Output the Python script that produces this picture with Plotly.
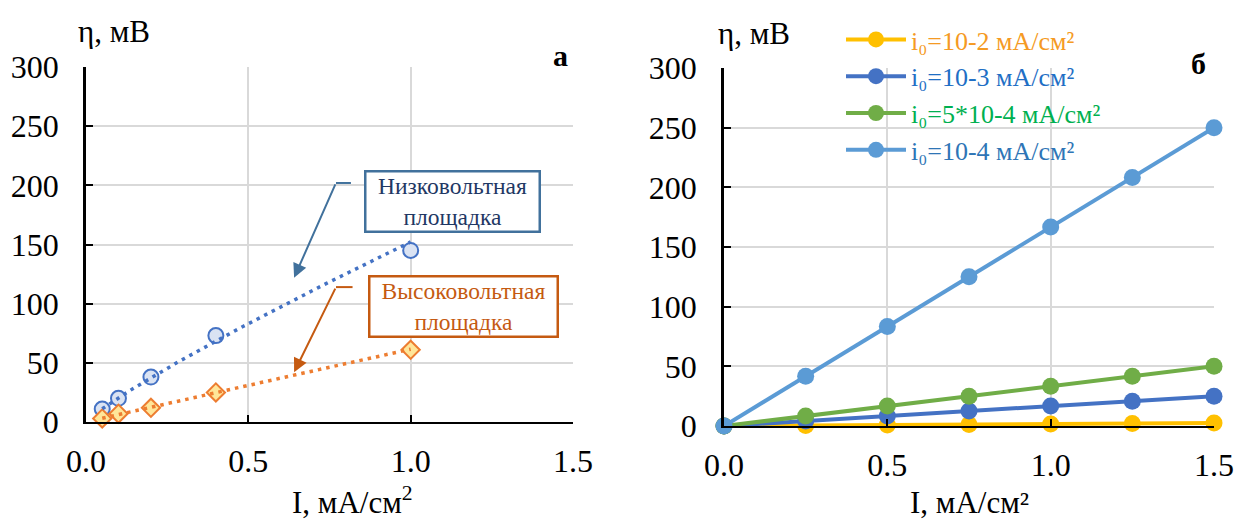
import numpy as np
import plotly.graph_objects as go

# ---------------- data ----------------
# panel a
I_meas = [0.05, 0.1, 0.2, 0.4, 1.0]
eta_low = [11, 20, 38, 73, 145]      # низковольтная площадка
eta_high = [3, 7, 12, 25, 61]        # высоковольтная площадка

# panel б
I_calc = [0, 0.25, 0.5, 0.75, 1.0, 1.25, 1.5]
eta_i0_1e2 = [0, 0.4, 0.8, 1.25, 1.7, 2.1, 2.5]
eta_i0_1e3 = [0, 4.2, 8.3, 12.5, 16.7, 20.8, 25]
eta_i0_5e4 = [0, 8.3, 16.7, 25, 33.3, 41.7, 50]
eta_i0_1e4 = [0, 41.7, 83.3, 125, 166.7, 208.3, 250]

x_ticks = [0.0, 0.5, 1.0, 1.5]
y_ticks = [0, 50, 100, 150, 200, 250, 300]

FONT = "Liberation Serif"
W, H = 1235, 520


def power_trend(x, y):
    b, ln_a = np.polyfit(np.log(x), np.log(y), 1)
    xs = np.linspace(min(x), max(x), 60)
    return xs, np.exp(ln_a) * xs ** b


fig = go.Figure()

# ---- panel a ----
fig.add_trace(go.Scatter(x=I_meas, y=eta_low, mode="markers", xaxis="x", yaxis="y",
                         marker=dict(symbol="circle", size=15, color="#DAE3F3",
                                     line=dict(color="#4472C4", width=2)),
                         showlegend=False, cliponaxis=False))
fig.add_trace(go.Scatter(x=I_meas, y=eta_high, mode="markers", xaxis="x", yaxis="y",
                         marker=dict(symbol="diamond", size=14, color="#FFE699",
                                     line=dict(color="#ED7D31", width=2)),
                         showlegend=False, cliponaxis=False))
tx, ty = power_trend(I_meas, eta_low)
fig.add_trace(go.Scatter(x=tx, y=ty, mode="lines", xaxis="x", yaxis="y",
                         line=dict(color="#4472C4", width=3.5, dash="3.5px,5px"),
                         showlegend=False, cliponaxis=False))
tx, ty = power_trend(I_meas, eta_high)
fig.add_trace(go.Scatter(x=tx, y=ty, mode="lines", xaxis="x", yaxis="y",
                         line=dict(color="#ED7D31", width=3.5, dash="3.5px,5px"),
                         showlegend=False, cliponaxis=False))

# ---- panel б ----
series = [
    ("i₀=10-2 мА/см²", eta_i0_1e2, "#FFC000", "#F59A23"),
    ("i₀=10-3 мА/см²", eta_i0_1e3, "#4472C4", "#1F6FC5"),
    ("i₀=5*10-4 мА/см²", eta_i0_5e4, "#70AD47", "#00B050"),
    ("i₀=10-4 мА/см²", eta_i0_1e4, "#5B9BD5", "#2E75B6"),
]
for k, (name, vals, col, tcol) in enumerate(series):
    fig.add_trace(go.Scatter(x=I_calc, y=vals, mode="lines+markers", xaxis="x2", yaxis="y2",
                             name=f'<span style="color:{tcol}">{name}</span>',
                             legendgroup=f"g{k}",
                             line=dict(color=col, width=4),
                             marker=dict(size=17, color=col),
                             cliponaxis=False))

axis_common = dict(range=[0, 1.5], tickvals=x_ticks, tickformat=".1f",
                   showgrid=True, gridcolor="#D9D9D9", gridwidth=1.5,
                   showline=True, linecolor="black", linewidth=2,
                   ticks="inside", ticklen=7, tickwidth=2, tickcolor="black",
                   zeroline=False, fixedrange=True, automargin=False,
                   ticklabelstandoff=10,
                   tickfont=dict(family=FONT, size=32, color="black"))
yaxis_common = dict(range=[0, 300], tickvals=y_ticks,
                    showgrid=True, gridcolor="#D9D9D9", gridwidth=1.5,
                    showline=True, linecolor="black", linewidth=2.5,
                    ticks="inside", ticklen=7, tickwidth=2, tickcolor="black",
                    zeroline=False, fixedrange=True, automargin=False,
                    ticklabelstandoff=18,
                    tickfont=dict(family=FONT, size=32, color="black"))

fig.update_layout(
    width=W, height=H,
    margin=dict(l=0, r=0, t=0, b=0, autoexpand=False),
    paper_bgcolor="white", plot_bgcolor="white",
    font=dict(family=FONT, color="black"),
    xaxis=dict(domain=[86 / W, 573 / W], anchor="y", **axis_common),
    yaxis=dict(domain=[1 - 422 / H, 1 - 67 / H], anchor="x", **yaxis_common),
    xaxis2=dict(domain=[724 / W, 1214 / W], anchor="y2", **axis_common),
    yaxis2=dict(domain=[1 - 426 / H, 1 - 68 / H], anchor="x2", **yaxis_common),
    legend=dict(x=841 / W, y=1 - 16 / H, xanchor="left", yanchor="top",
                font=dict(family=FONT, size=26), bgcolor="rgba(0,0,0,0)",
                itemwidth=60, tracegroupgap=10, traceorder="normal"),
    showlegend=True,
)

out = []
titles = [
    ("η, мВ", 76, 31, "left"),
    ("η, мВ", 716, 34, "left"),
    ("I, мА/см<sup>2</sup>", 352, 500, "center"),
    ("I, мА/см²", 969, 502, "center"),
]
for text, px, py, anc in titles:
    out.append(dict(text=text, xref="paper", yref="paper", x=px / W, y=1 - py / H,
                    xanchor=anc, yanchor="middle", showarrow=False,
                    font=dict(family=FONT, size=31, color="black")))
# panel letters
out.append(dict(text="<b>а</b>", xref="paper", yref="paper", x=560 / W, y=1 - 37 / H,
                showarrow=False, font=dict(family=FONT, size=30, color="black")))
out.append(dict(text="<b>б</b>", xref="paper", yref="paper", x=1208 / W, y=1 - 45 / H,
                showarrow=False, font=dict(family=FONT, size=30, color="black")))

# callout boxes (panel a, data coords)
out.append(dict(text="Низковольтная<br>площадка", xref="x", yref="y", x=1.128, y=186,
                showarrow=False, width=172, height=58, align="center",
                bordercolor="#41719C", borderwidth=2.5, borderpad=0, bgcolor="white",
                font=dict(family=FONT, size=23.5, color="#1F3864")))
out.append(dict(text="Высоковольтная<br>площадка", xref="x", yref="y", x=1.162, y=98,
                showarrow=False, width=186, height=58, align="center",
                bordercolor="#C55A11", borderwidth=2.5, borderpad=0, bgcolor="white",
                font=dict(family=FONT, size=23.5, color="#C55A11")))
# arrows
out.append(dict(text="", xref="x", yref="y", x=0.641, y=122, axref="x", ayref="y",
                ax=0.770, ay=202, showarrow=True, arrowhead=2, arrowsize=1.4,
                arrowwidth=2, arrowcolor="#41719C"))
out.append(dict(text="", xref="x", yref="y", x=0.641, y=42, axref="x", ayref="y",
                ax=0.770, ay=114, showarrow=True, arrowhead=2, arrowsize=1.4,
                arrowwidth=2, arrowcolor="#C55A11"))
fig.update_layout(annotations=out)

fig.update_layout(shapes=[
    dict(type="line", xref="x", yref="y", x0=0.770, x1=0.816, y0=202, y1=202,
         line=dict(color="#41719C", width=2)),
    dict(type="line", xref="x", yref="y", x0=0.770, x1=0.821, y0=114, y1=114,
         line=dict(color="#C55A11", width=2)),
])

fig.write_html("out.html", config={"displayModeBar": False},
               post_script="document.body.style.margin='0';")
